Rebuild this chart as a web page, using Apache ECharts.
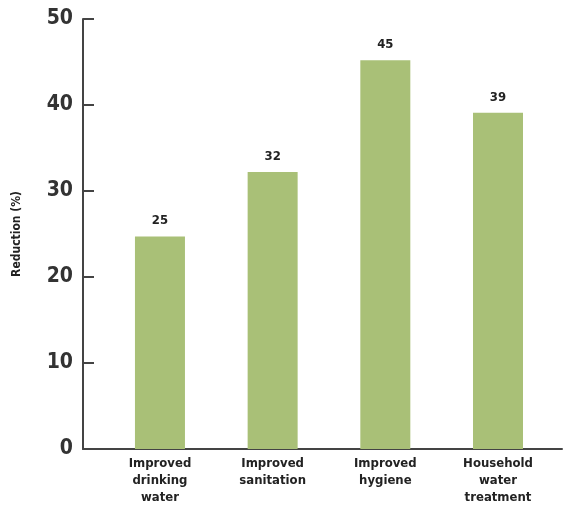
<!DOCTYPE html>
<html>
<head>
<meta charset="utf-8">
<script src="https://cdn.jsdelivr.net/npm/echarts@6/dist/echarts.min.js"></script>
<style>
html,body{margin:0;padding:0;background:#fff;}
#chart{width:564px;height:507px;}
</style>
</head>
<body>
<div id="chart"></div>
<script>
// categories and values
var categories = ['Improved\ndrinking\nwater', 'Improved\nsanitation', 'Improved\nhygiene', 'Household\nwater\ntreatment'];
var reduction = [24.7, 32.2, 45.2, 39.1];
var valueLabels = ['25', '32', '45', '39'];
var yTicks = [0, 10, 20, 30, 40, 50];

var font = "'Liberation Sans Narrow', 'DejaVu Sans Condensed', Roboto, sans-serif";

var barData = [];
for (var i = 0; i < reduction.length; i++) {
	barData.push([i, reduction[i]]);
}

var myChart = echarts.init(document.getElementById('chart'));
var option = {
	animation: false,
	grid: {left: 83, right: 2, top: 19, bottom: 58},
	xAxis: {
		type: 'value',
		min: -0.683,
		max: 3.568,
		splitLine: {show: false},
		axisLine: {show: true, onZero: false, lineStyle: {color: '#444', width: 2}},
		axisTick: {show: false},
		axisLabel: {
			customValues: [0, 1, 2, 3],
			formatter: function(v){ return categories[Math.round(v)]; },
			fontFamily: font,
			fontWeight: 'bold',
			fontSize: 13,
			lineHeight: 17,
			color: '#222',
			margin: 6,
			verticalAlign: 'top'
		}
	},
	yAxis: {
		type: 'value',
		min: yTicks[0],
		max: yTicks[yTicks.length - 1],
		interval: 10,
		name: 'Reduction (%)',
		nameLocation: 'middle',
		nameGap: 60,
		nameTextStyle: {fontFamily: font, fontWeight: 'bold', fontSize: 12, color: '#222'},
		splitLine: {show: false},
		axisLine: {show: true, onZero: false, lineStyle: {color: '#444', width: 2}},
		axisTick: {show: true, inside: true, length: 11, lineStyle: {color: '#444', width: 2}},
		axisLabel: {fontFamily: font, fontWeight: 'bold', fontSize: 21, color: '#333', margin: 10}
	},
	series: [{
		type: 'bar',
		data: barData,
		barWidth: 50,
		itemStyle: {color: '#a9c077'},
		label: {
			show: true,
			position: 'top',
			distance: 9,
			formatter: function(p){ return valueLabels[p.dataIndex]; },
			fontFamily: font,
			fontWeight: 'bold',
			fontSize: 13,
			color: '#222'
		}
	}]
};
myChart.setOption(option);
</script>
</body>
</html>
